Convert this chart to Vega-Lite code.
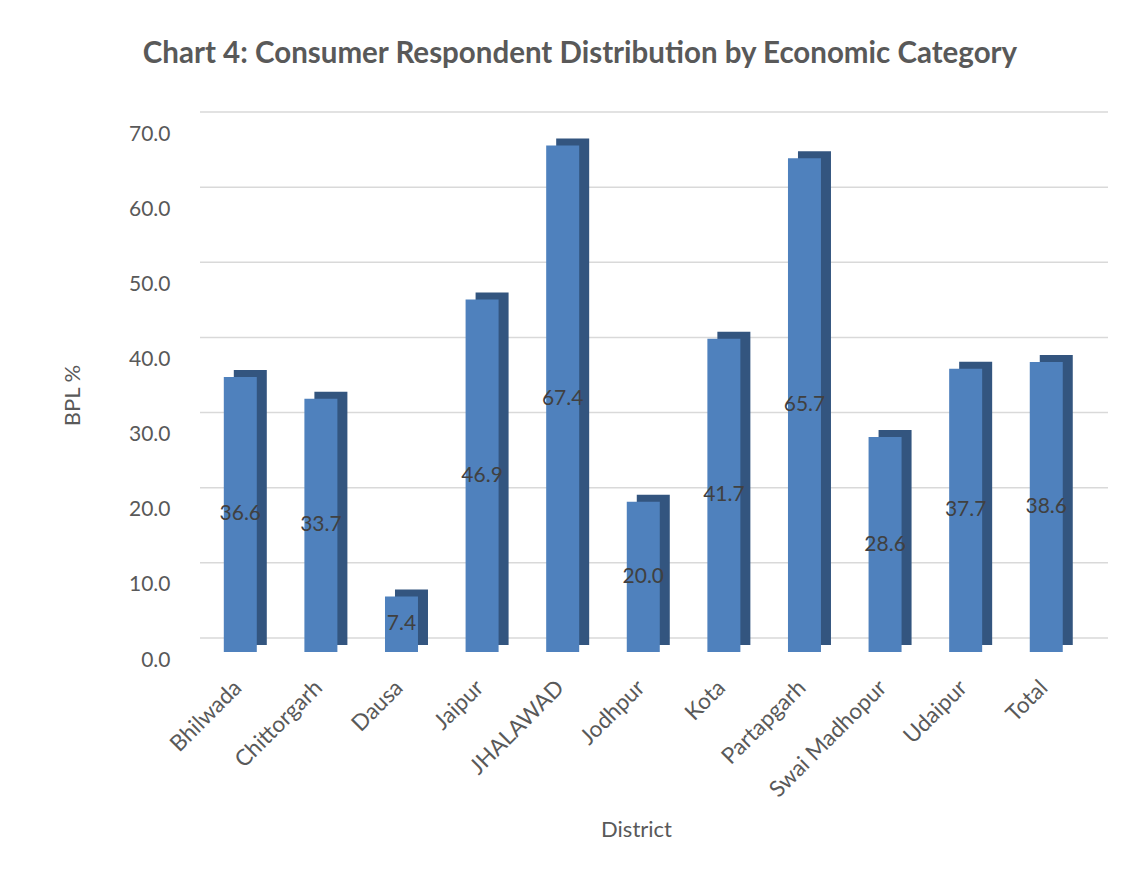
{
  "$schema": "https://vega.github.io/schema/vega-lite/v6.json",
  "width": 908,
  "height": 526,
  "autosize": {"type": "none"},
  "padding": {"left": 200, "top": 126, "right": 32, "bottom": 222},
  "background": "white",
  "config": {"view": {"stroke": null}},
  "title": {
    "text": "Chart 4: Consumer Respondent Distribution by Economic Category",
    "font": "Lato",
    "fontSize": 29.5,
    "fontWeight": "bold",
    "color": "#595959",
    "anchor": "middle",
    "dx": -74,
    "offset": 42
  },
  "datasets": {
    "bpl": [
      {"District": "Bhilwada", "BPL": 36.6},
      {"District": "Chittorgarh", "BPL": 33.7},
      {"District": "Dausa", "BPL": 7.4},
      {"District": "Jaipur", "BPL": 46.9},
      {"District": "JHALAWAD", "BPL": 67.4},
      {"District": "Jodhpur", "BPL": 20.0},
      {"District": "Kota", "BPL": 41.7},
      {"District": "Partapgarh", "BPL": 65.7},
      {"District": "Swai Madhopur", "BPL": 28.6},
      {"District": "Udaipur", "BPL": 37.7},
      {"District": "Total", "BPL": 38.6}
    ],
    "grid": [
      {"g": 0}, {"g": 10}, {"g": 20}, {"g": 30}, {"g": 40}, {"g": 50}, {"g": 60}, {"g": 70}
    ]
  },
  "layer": [
    {
      "data": {"name": "grid"},
      "mark": {"type": "rule", "color": "#d9d9d9", "strokeWidth": 1.5, "yOffset": -14},
      "encoding": {
        "y": {"field": "g", "type": "quantitative", "scale": {"domain": [0, 70]}, "axis": null}
      }
    },
    {
      "data": {"name": "bpl"},
      "mark": {"type": "bar", "size": 33, "color": "#33557f", "xOffset": 10, "yOffset": -7, "y2Offset": -7},
      "encoding": {
        "x": {"field": "District", "type": "nominal", "sort": null,
              "scale": {"paddingInner": 0, "paddingOuter": 0.133, "align": 0},
              "axis": {
                "title": "District",
                "titleFont": "Lato",
                "titleFontSize": 22,
                "titleFontWeight": "normal",
                "titleColor": "#595959",
                "titleX": 436,
                "titleY": 177,
                "titleBaseline": "middle",
                "titleAlign": "center",
                "labelAngle": -45,
                "labelFont": "Lato",
                "labelFontSize": 22.5,
                "labelColor": "#595959",
                "labelPadding": 24,
                "labelOffset": -10,
                "ticks": false,
                "domain": false,
                "grid": false
              }},
        "y": {"field": "BPL", "type": "quantitative", "scale": {"domain": [0, 70]}, "axis": null}
      }
    },
    {
      "data": {"name": "bpl"},
      "mark": {"type": "bar", "size": 33, "color": "#4f81bd"},
      "encoding": {
        "x": {"field": "District", "type": "nominal", "sort": null,
              "scale": {"paddingInner": 0, "paddingOuter": 0.133, "align": 0}},
        "y": {"field": "BPL", "type": "quantitative", "scale": {"domain": [0, 70]},
              "axis": {
                "title": "BPL %",
                "titleFont": "Lato",
                "titleFontSize": 22,
                "titleFontWeight": "normal",
                "titleColor": "#595959",
                "titleX": -128,
                "titleY": 269,
                "titleAngle": -90,
                "titleBaseline": "middle",
                "titleAlign": "center",
                "values": [0, 10, 20, 30, 40, 50, 60, 70],
                "format": ".1f",
                "labelFont": "Lato",
                "labelFontSize": 21,
                "labelColor": "#595959",
                "labelPadding": 30,
                "labelOffset": 8,
                "ticks": false,
                "domain": false,
                "grid": false
              }}
      }
    },
    {
      "data": {"name": "bpl"},
      "mark": {"type": "text", "font": "Lato", "fontSize": 21, "color": "#404040", "baseline": "middle", "align": "center"},
      "encoding": {
        "x": {"field": "District", "type": "nominal", "sort": null,
              "scale": {"paddingInner": 0, "paddingOuter": 0.133, "align": 0}},
        "y": {"field": "BPL", "type": "quantitative", "scale": {"domain": [0, 140]}, "axis": null},
        "text": {"field": "BPL", "type": "quantitative", "format": ".1f"}
      }
    }
  ],
  "resolve": {"scale": {"y": "independent"}}
}
